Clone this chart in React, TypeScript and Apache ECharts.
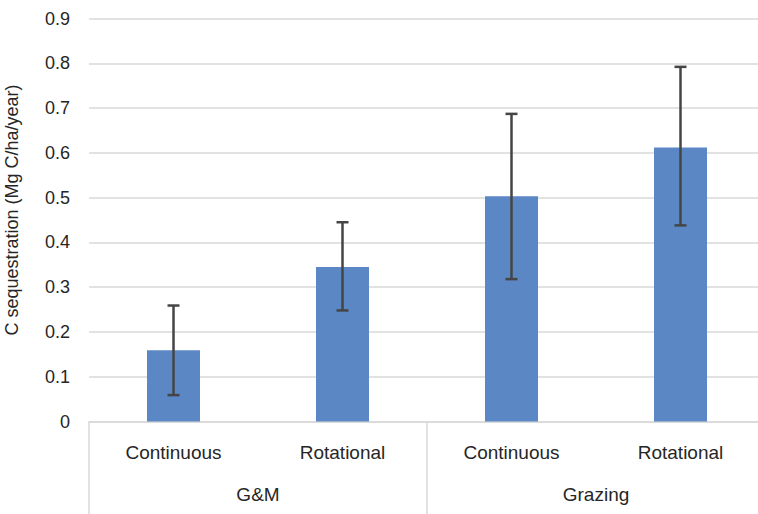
import React, { useEffect, useRef } from "react";
import * as echarts from "echarts";

const categories = ["Continuous", "Rotational", "Continuous", "Rotational"];
const groups = ["G&M", "Grazing"];
const means = [0.159, 0.345, 0.503, 0.612];
const errLow = [0.059, 0.248, 0.318, 0.438];
const errHigh = [0.259, 0.445, 0.687, 0.792];

const FONT = "'Liberation Sans', Arial, Helvetica, sans-serif";
const TEXT = "#262626";
const GRID = "#d9d9d9";

export default function App() {
  const ref = useRef<HTMLDivElement>(null);
  useEffect(() => {
    if (!ref.current) return;
    const chart = echarts.init(ref.current, null, { renderer: "svg" });
    chart.setOption({
      animation: false,
      backgroundColor: "#ffffff",
      grid: {
        left: 89,
        top: 18.5,
        width: 676,
        height: 403,
        containLabel: false,
        outerBoundsMode: "none",
      },
      xAxis: [
        {
          type: "category",
          data: categories,
          position: "bottom",
          axisLine: { show: true, lineStyle: { color: GRID, width: 1.5 } },
          axisTick: { show: false },
          axisLabel: { color: TEXT, fontSize: 19, fontFamily: FONT, margin: 21, interval: 0 },
          splitLine: { show: false },
        },
        {
          type: "category",
          data: groups,
          position: "bottom",
          axisLine: { show: false },
          axisTick: { show: true, length: 95, lineStyle: { color: GRID, width: 1.5 }, alignWithLabel: false },
          axisLabel: { color: TEXT, fontSize: 19, fontFamily: FONT, margin: 63, interval: 0 },
          splitLine: { show: false },
        },
      ],
      yAxis: {
        type: "value",
        min: 0,
        max: 0.9,
        interval: 0.1,
        name: "C sequestration (Mg C/ha/year)",
        nameLocation: "middle",
        nameGap: 68,
        nameTextStyle: { color: TEXT, fontSize: 18, fontFamily: FONT, padding: [0, 0, 0, 20] },
        axisLine: { show: false },
        axisTick: { show: false },
        axisLabel: {
          color: TEXT,
          fontSize: 18,
          fontFamily: FONT,
          margin: 19,
          formatter: (v: number) => (v === 0 ? "0" : v.toFixed(1)),
        },
        splitLine: { show: true, lineStyle: { color: GRID, width: 1.5 } },
      },
      series: [
        {
          type: "bar",
          xAxisIndex: 0,
          data: means,
          barWidth: 53,
          itemStyle: { color: "#5B87C5" },
        },
        {
          type: "custom",
          xAxisIndex: 0,
          data: categories.map((_, i) => [i, errLow[i], errHigh[i]]),
          encode: { x: 0, y: [1, 2] },
          z: 10,
          renderItem: (params: any, api: any) => {
            const i = api.value(0);
            const lo = api.coord([i, api.value(1)]);
            const hi = api.coord([i, api.value(2)]);
            const hw = 6;
            const style = { stroke: "#454545", lineWidth: 2.5 };
            return {
              type: "group",
              children: [
                { type: "line", shape: { x1: hi[0], y1: hi[1], x2: lo[0], y2: lo[1] }, style },
                { type: "line", shape: { x1: hi[0] - hw, y1: hi[1], x2: hi[0] + hw, y2: hi[1] }, style },
                { type: "line", shape: { x1: lo[0] - hw, y1: lo[1], x2: lo[0] + hw, y2: lo[1] }, style },
              ],
            };
          },
        },
      ],
    });
    return () => chart.dispose();
  }, []);
  return <div ref={ref} style={{ width: 758, height: 514, position: "absolute", left: 0, top: 0 }} />;
}
